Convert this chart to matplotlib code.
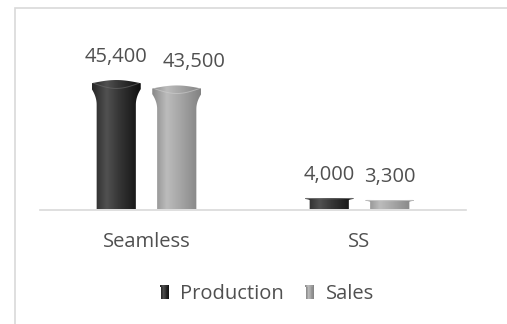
import numpy as np
import matplotlib.pyplot as plt
from matplotlib.path import Path
from matplotlib.patches import PathPatch, Rectangle
from matplotlib.colors import LinearSegmentedColormap
from matplotlib.legend_handler import HandlerBase

plt.rcParams["font.family"] = ["Open Sans", "DejaVu Sans"]

categories = ["Seamless", "SS"]
series = ["Production", "Sales"]
production = [45400, 4000]
sales = [43500, 3300]

TEXT = "#505050"
LINE = "#d9d9d9"
FS = 14.5

# left edge, highlight, middle, right edge
shades = {
    "Production": ["#262626", "#515151", "#363636", "#101010"],
    "Sales": ["#878787", "#bcbcbc", "#a8a8a8", "#828282"],
}
rim_line = {"Production": "#6e6e6e", "Sales": "#cfcfcf"}


def gradient(cols):
    return LinearSegmentedColormap.from_list("", list(zip([0, 0.3, 0.55, 1], cols)))


def pipe_outline(x0, w, h):
    # pipe with a flared lip on top, in bar-relative units first
    t = np.linspace(0, 1, 14)
    lu = [0.1, 0.1] + list(0.1 - 0.1 * t**2) + [0.0]
    lv = [0.0, 0.81] + list(0.81 + 0.12 * t) + [0.975]
    a = np.linspace(0, 1, 30)
    tu = list(a)
    tv = list(0.975 + 0.025 * np.sin(np.pi * a))
    u = np.array(lu + tu + [1 - k for k in lu[::-1]])
    v = np.array(lv + tv + lv[::-1])
    return np.column_stack([x0 + u * w, v * h])


def draw_pipe(ax, x0, w, h, name):
    pts = pipe_outline(x0, w, h)
    clip = PathPatch(Path(pts), facecolor="none", edgecolor="none", transform=ax.transData)
    ax.add_patch(clip)
    row = np.linspace(0, 1, 256).reshape(1, -1)
    im = ax.imshow(row, extent=(x0, x0 + w, 0, h), aspect="auto", cmap=gradient(shades[name]),
                   interpolation="bilinear", zorder=2)
    im.set_clip_path(clip)
    # faint front edge of the lip
    a = np.linspace(0.04, 0.96, 40)
    low = 0.975 - 0.04 * np.sin(np.pi * (a - 0.04) / 0.92)
    ax.plot(x0 + a * w, low * h, color=rim_line[name], lw=0.7, alpha=0.6, zorder=3)


class PipeHandler(HandlerBase):
    def __init__(self, name):
        super().__init__()
        self.name = name

    def create_artists(self, legend, orig_handle, xdescent, ydescent, width, height, fontsize, trans):
        cmap = gradient(shades[self.name])
        x0, y0 = -xdescent, -ydescent
        arts = []
        n = 10
        for i in range(n):
            c = cmap((i + 0.5) / n)
            bx = x0 + 0.1 * width + i * 0.8 * width / n
            arts.append(Rectangle((bx, y0), 0.8 * width / n + 0.05, 0.82 * height,
                                  facecolor=c, edgecolor="none", transform=trans))
            rx = x0 + i * width / n
            arts.append(Rectangle((rx, y0 + 0.82 * height), width / n + 0.05, 0.18 * height,
                                  facecolor=c, edgecolor="none", transform=trans))
        return arts


fig = plt.figure(figsize=(5.07, 3.24), dpi=100)
ax = fig.add_axes([40 / 507, (324 - 209.5) / 324, 426 / 507, 142.6 / 324])

x = np.arange(len(categories))
offset = 0.142
width = 0.23
nudge = {("Sales", 0): 12.5}
handles = []
for name, vals, dx in [("Production", production, -offset), ("Sales", sales, offset)]:
    bars = ax.bar(x + dx, vals, width, color="none", label=name)
    handles.append(bars)
    for i, b in enumerate(bars):
        draw_pipe(ax, b.get_x(), b.get_width(), b.get_height(), name)
        ax.annotate(f"{vals[i]:,}", (b.get_x() + b.get_width() / 2, b.get_height()),
                    xytext=(nudge.get((name, i), 0), 13), textcoords="offset points",
                    ha="center", va="baseline", fontsize=FS, color=TEXT)

ax.set_xlim(-0.5, 1.5)
ax.set_ylim(0, 50000)
ax.set_xticks(x)
ax.set_xticklabels(categories, fontsize=FS, color=TEXT)
ax.tick_params(axis="x", length=0, pad=16)
ax.set_yticks([])
for s in ["top", "left", "right"]:
    ax.spines[s].set_visible(False)
ax.spines["bottom"].set_color(LINE)
ax.spines["bottom"].set_linewidth(1.2)
ax.spines["bottom"].set_zorder(5)

fig.legend(handles, series, loc="center", bbox_to_anchor=(267 / 507, 1 - 294 / 324),
           ncol=2, frameon=False, fontsize=FS, labelcolor=TEXT,
           handlelength=0.45, handleheight=0.7, handletextpad=0.55, columnspacing=1.05,
           handler_map={handles[0]: PipeHandler("Production"), handles[1]: PipeHandler("Sales")})

# chart area border, cut off on the right and bottom like the screenshot
fig.add_artist(Rectangle((14.8 / 507, -0.1), 2, 1 - 8 / 324 + 0.1, transform=fig.transFigure,
                         facecolor="none", edgecolor=LINE, linewidth=1.2))

fig.savefig("out.png", dpi=100, facecolor="white")
